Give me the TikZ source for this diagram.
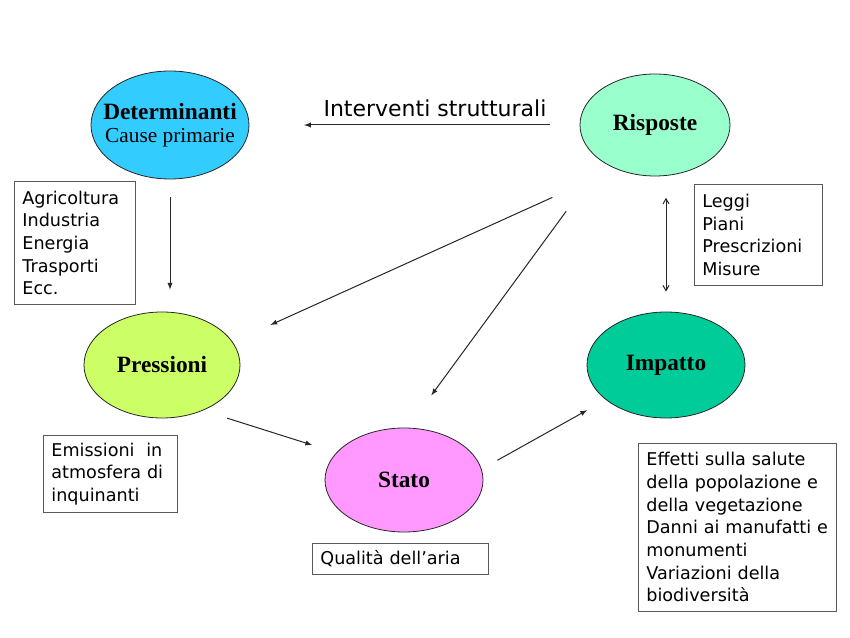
\documentclass[tikz,border=0pt]{standalone}
\usepackage{fontspec}
\setmainfont{Liberation Serif}
\newfontfamily\genevafont{DejaVu Sans}
\usetikzlibrary{shapes,arrows,positioning}

\definecolor{celeste}{HTML}{33CCFF}
\definecolor{acquamarina}{HTML}{99FFCC}
\definecolor{lime}{HTML}{CCFF66}
\definecolor{smeraldo}{HTML}{00CC99}
\definecolor{rosa}{HTML}{FF99FF}

\begin{document}
\begin{tikzpicture}[x=0.75pt,y=-0.75pt,
	ovale/.style={ellipse, draw=black!85, line width=0.6pt, inner sep=0pt, minimum width=118.5pt, minimum height=79.5pt},
	etichetta/.style={align=center, font=\fontsize{17.5}{18}\selectfont\bfseries},
	riquadro/.style={draw=black!65, line width=0.6pt, anchor=north west, align=left, inner xsep=6pt, inner ysep=0pt, font=\genevafont\fontsize{13.2}{17}\selectfont},
	freccia/.style={->,>=latex, black!85, line width=0.75pt}]
			
			\useasboundingbox (0,0) rectangle (850,638);
			
			% ellissi
			\node[ovale, fill=celeste, minimum height=81pt, label={[etichetta]center:Determinanti\\[-1pt]{\mdseries\fontsize{16}{18}\selectfont Cause primarie}}] (det) at (170,125) {};
			\node[ovale, fill=acquamarina, minimum width=112.5pt, minimum height=76.5pt, label={[etichetta]center:Risposte}] (risp) at (655,125) {};
			\node[ovale, fill=lime, minimum width=117pt, label={[etichetta]center:Pressioni}] (pres) at (162,365) {};
			\node[ovale, fill=smeraldo, label={[etichetta]center:Impatto}] (imp) at (666,365) {};
			\node[ovale, fill=rosa, minimum height=78pt, label={[etichetta]center:Stato}] (stato) at (404,480) {};
			
			% riquadri
			\node[riquadro, text width=78.75pt, minimum height=92.25pt] (cause) at (14,181) {Agricoltura\\Industria\\Energia\\Trasporti\\Ecc.};
			\node[riquadro, text width=84pt, minimum height=75.75pt] (misure) at (694,184) {Leggi\\Piani\\Prescrizioni\\Misure};
			\node[riquadro, text width=88.5pt, minimum height=57.75pt] (emiss) at (43,435) {Emissioni~ in\\atmosfera di\\inquinanti};
			\node[riquadro, text width=120pt, minimum height=23.25pt] (qualita) at (312,543) {Qualità dell’aria};
			\node[riquadro, text width=136.5pt, minimum height=126pt] (effetti) at (638,443) {Effetti sulla salute\\della popolazione e\\della vegetazione\\Danni ai manufatti e\\monumenti\\Variazioni della\\biodiversità};
			
			\node[font=\genevafont\fontsize{16.5}{18}\selectfont] (interv) at (435,108) {Interventi strutturali};
			
			% frecce
			\draw[freccia, shorten <=22.5pt, shorten >=41pt] (risp.west) -- (det.east);
			\draw[freccia, shorten <=13.5pt, shorten >=16.5pt] (det.south) -- (det.south |- pres.north);
			\draw[<->,>=angle 60, black!85, line width=0.75pt, shorten <=15pt, shorten >=16pt] (imp.north) -- (imp.north |- risp.south);
			\draw[freccia, shorten <=52pt, shorten >=31pt] (risp.228) -- (pres.18);
			\draw[freccia, shorten <=46pt, shorten >=30pt] (risp.215) -- (stato.86);
			\draw[freccia, shorten <=19pt, shorten >=19pt] (pres.312) -- (stato.158);
			\draw[freccia, shorten <=13.5pt, shorten >=16pt] (stato.8) -- (imp.210);
			
		\end{tikzpicture}
\end{document}
